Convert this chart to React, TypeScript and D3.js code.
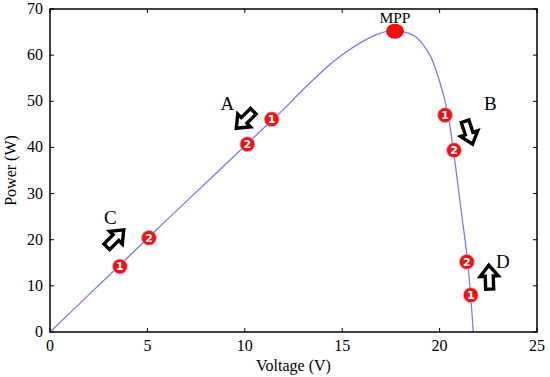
import { useEffect } from 'react';
import * as d3 from 'd3';

// P-V curve of the panel
const voltage = [0, 2, 4, 6, 8, 10, 11, 12, 12.7, 13.5, 14.4, 15.2, 16.1, 16.8, 17.5, 18.2, 18.8, 19.5, 20.0, 20.4, 20.7, 21.1, 21.45, 21.73];
const power = [0, 8.1, 16.2, 24.3, 32.3, 40.3, 44.3, 48.3, 51.3, 54.6, 58.1, 60.7, 63.1, 64.5, 65.3, 65.0, 63.9, 60.0, 54.3, 47.8, 39.6, 26.5, 14.8, 0];

const xTicks = [0, 5, 10, 15, 20, 25];
const yTicks = [0, 10, 20, 30, 40, 50, 60, 70];

// numbered operating points
const markerV = [11.38, 10.13, 20.28, 20.74, 3.59, 5.08, 21.6, 21.4];
const markerP = [46.1, 40.7, 47.0, 39.4, 14.2, 20.4, 8.0, 15.2];
const markerNum = ['1', '2', '1', '2', '1', '2', '1', '2'];

// perturbation arrows: label, position, direction (deg)
const arrowLabel = ['A', 'B', 'C', 'D'];
const arrowV = [10.0, 21.5, 3.35, 22.55];
const arrowP = [46.0, 43.2, 20.3, 11.9];
const arrowAngle = [135, 72, -45, -92];
const letterV = [9.1, 22.6, 3.1, 23.25];
const letterP = [49.5, 49.5, 24.8, 15.2];

const mpp = { v: 17.71, p: 65.2 };

const W = 550, H = 377;
const margin = { top: 9, right: 13, bottom: 45, left: 50 };

const font = '"Liberation Serif", "Times New Roman", serif';

export default function App() {
  useEffect(() => {
    document.body.style.margin = '0';
  }, []);

  const x = d3.scaleLinear().domain([0, 25]).range([margin.left, W - margin.right]);
  const y = d3.scaleLinear().domain([0, 70]).range([H - margin.bottom, margin.top]);

  const pts = voltage.map((v, i) => [v, power[i]] as [number, number]);
  const line = d3.line<[number, number]>()
    .x(d => x(d[0]))
    .y(d => y(d[1]))
    .curve(d3.curveCatmullRom.alpha(0.5));

  const x0 = x(0), x1 = x(25), y0 = y(0), y1 = y(70);
  const tl = 4;

  // block arrow pointing to +x
  const arrowPath = 'M-12,-4 L1,-4 L1,-9 L12,0 L1,9 L1,4 L-12,4 Z';

  return (
    <svg width={W} height={H} style={{ display: 'block', background: '#fff' }} fontFamily={font}>
      <path d={line(pts) || ''} fill="none" stroke="#7a7cf0" strokeWidth={1.3} />

      {/* frame */}
      <rect x={x0} y={y1} width={x1 - x0} height={y0 - y1} fill="none" stroke="#000" strokeWidth={1.5} />

      {xTicks.map(t => (
        <g key={'x' + t}>
          <line x1={x(t)} x2={x(t)} y1={y0} y2={y0 - tl} stroke="#000" strokeWidth={1} />
          <line x1={x(t)} x2={x(t)} y1={y1} y2={y1 + tl} stroke="#000" strokeWidth={1} />
          <text x={x(t)} y={y0 + 19} fontSize={16} textAnchor="middle">{t}</text>
        </g>
      ))}
      {yTicks.map(t => (
        <g key={'y' + t}>
          <line x1={x0} x2={x0 + tl} y1={y(t)} y2={y(t)} stroke="#000" strokeWidth={1} />
          <line x1={x1} x2={x1 - tl} y1={y(t)} y2={y(t)} stroke="#000" strokeWidth={1} />
          <text x={x0 - 7} y={y(t) + 5} fontSize={16} textAnchor="end">{t}</text>
        </g>
      ))}

      <text x={(x0 + x1) / 2} y={H - 6} fontSize={16} textAnchor="middle">Voltage (V)</text>
      <text transform={`translate(16,${(y0 + y1) / 2}) rotate(-90)`} fontSize={16} textAnchor="middle">Power (W)</text>

      {/* MPP */}
      <ellipse cx={x(mpp.v)} cy={y(mpp.p)} rx={9} ry={7.5} fill="#f01010" />
      <text x={x(mpp.v)} y={y(mpp.p) - 8} fontSize={15.5} textAnchor="middle">MPP</text>

      {markerV.map((v, i) => (
        <g key={'m' + i} transform={`translate(${x(v)},${y(markerP[i])})`}>
          <circle r={7.5} fill="#e8141b" stroke="#f7b0b0" strokeWidth={0.8} />
          <text y={4} fontSize={11} fontWeight="bold" fill="#fff" textAnchor="middle" fontFamily="'DejaVu Sans', sans-serif">{markerNum[i]}</text>
        </g>
      ))}

      {arrowLabel.map((l, i) => (
        <g key={'a' + i}>
          <path d={arrowPath} transform={`translate(${x(arrowV[i])},${y(arrowP[i])}) rotate(${arrowAngle[i]})`}
            fill="#fff" stroke="#000" strokeWidth={3.4} strokeLinejoin="miter" />
          <text x={x(letterV[i])} y={y(letterP[i]) + 6} fontSize={19} textAnchor="middle">{l}</text>
        </g>
      ))}
    </svg>
  );
}
